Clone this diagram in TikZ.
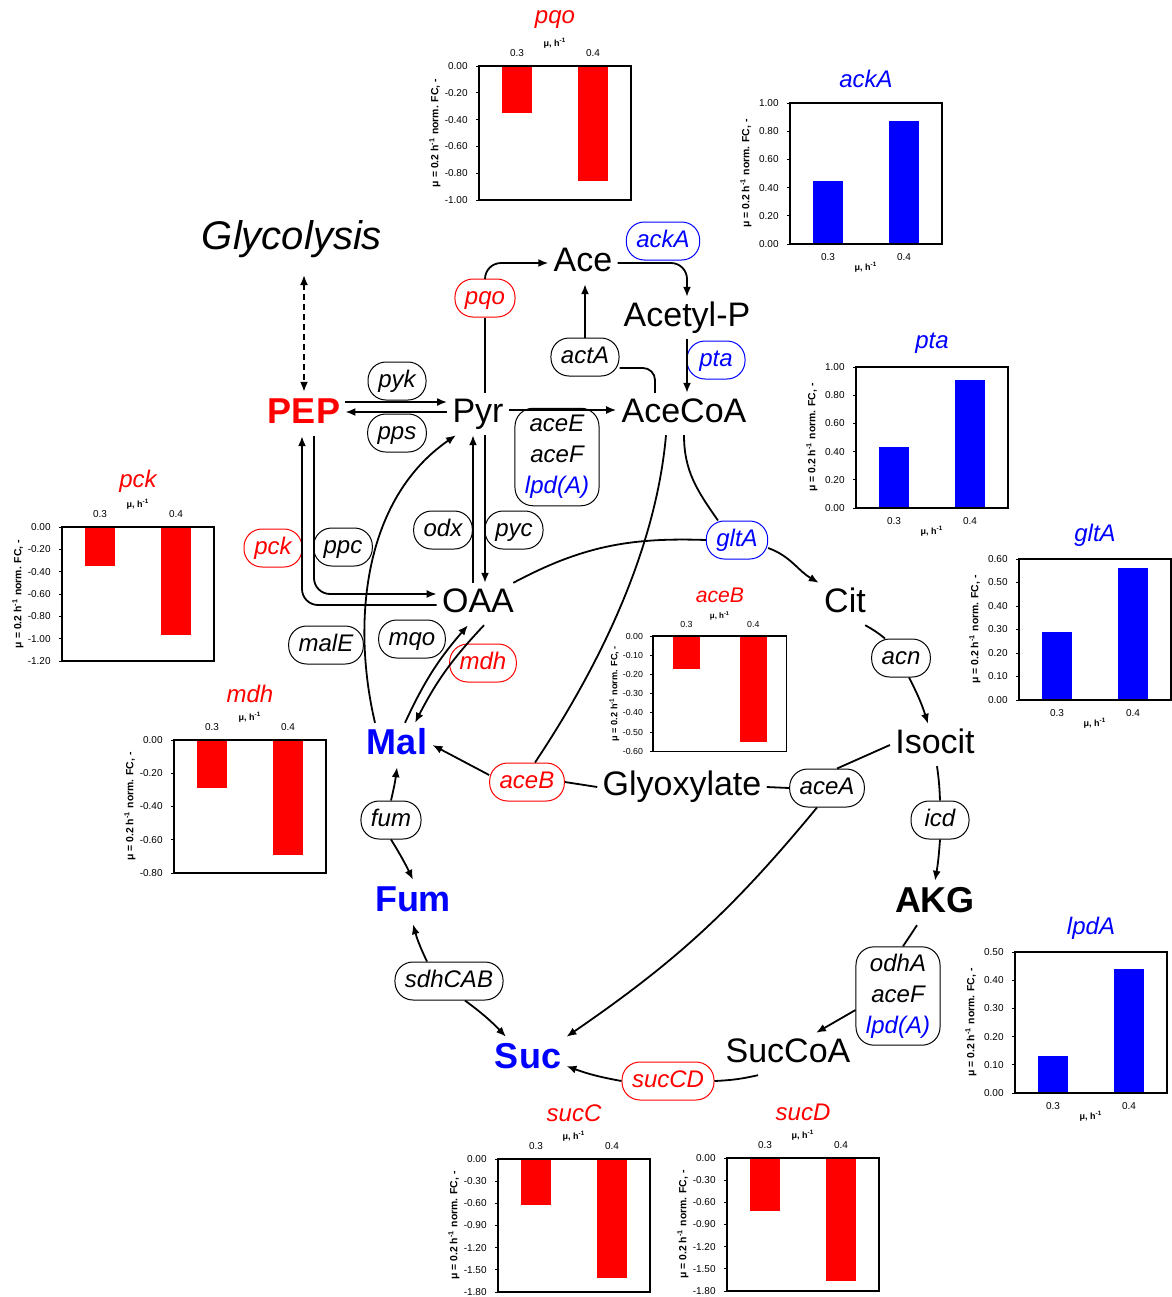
\documentclass[tikz,border=0pt]{standalone}
\usepackage{fontspec}
\setmainfont{Liberation Sans}
\usetikzlibrary{arrows.meta}
\definecolor{DownRed}{RGB}{255,0,0}
\definecolor{UpBlue}{RGB}{0,0,255}
\tikzset{met/.style={font=\fontsize{17}{17}\selectfont, inner sep=2.5pt,
  text height=12.2pt, text depth=3.6pt}}
\tikzset{metb/.style={met, font=\fontsize{18}{18}\selectfont\bfseries,
  text height=13pt, text depth=3.8pt}}
\tikzset{enzbase/.style={rectangle, rounded corners=9pt, draw, line width=0.5pt,
  inner xsep=5pt, font=\fontsize{12}{15.5}\selectfont\itshape}}
\tikzset{enz/.style={enzbase, minimum width=29pt, minimum height=19pt,
  text height=8.6pt, text depth=2.5pt}}
\tikzset{enzdn/.style={enz, draw=DownRed, text=DownRed}}
\tikzset{enzup/.style={enz, draw=UpBlue, text=UpBlue}}
\tikzset{enzgrp/.style={enzbase, align=center, inner ysep=3.5pt}}
\tikzset{fl/.style={-{Latex[length=5pt,width=4pt]}, line width=0.9pt}}
\tikzset{ln/.style={line width=0.9pt}}
\tikzset{ticklab/.style={anchor=east, inner sep=0pt, font=\fontsize{5}{5}\selectfont}}
\tikzset{catlab/.style={inner sep=0pt, font=\fontsize{5}{5}\selectfont}}
\tikzset{mulab/.style={inner sep=0pt, font=\fontsize{4.5}{4.5}\selectfont\bfseries}}
\tikzset{ylab/.style={inner sep=0pt, rotate=90, font=\fontsize{5.2}{5.2}\selectfont\bfseries}}
\newcommand{\fcchart}[8]{%
  \begin{scope}[#1]
    \pgfmathsetmacro{\zax}{#2*(1-(#8))/2}
    \foreach \tl [count=\tn] in {#3} {\xdef\nticks{\tn}}
    \foreach \tl [count=\tk from 0] in {#3} {
      \draw[line width=0.5pt] (-3,{\tk*#2/(\nticks-1)}) -- (0,{\tk*#2/(\nticks-1)});
      \node[ticklab] at (-11,{\tk*#2/(\nticks-1)}) {\tl};
    }
    \fill[#6] (23,\zax) rectangle (53,{\zax+(#8)*#4*#2});
    \fill[#6] (99,\zax) rectangle (129,{\zax+(#8)*#5*#2});
    \draw[line width=0.6pt] (0,0) rectangle (152,#2);
    \draw[line width=1.1pt] (0,#2) -- (0,0) (0,\zax) -- (152,\zax);
    \node[catlab] at (38,{\zax-(#8)*13}) {0.3};
    \node[catlab] at (114,{\zax-(#8)*13}) {0.4};
    \node[mulab] at (76,{\zax-(#8)*23}) {μ, h\textsuperscript{-1}};
    \node[font=\fontsize{12}{12}\selectfont\itshape, text=#6] at (76,{-35-11*(#8)}) {#7};
    \node[ylab] at (-44,{#2/2}) {μ = 0.2 h\textsuperscript{-1} norm. FC, -};
  \end{scope}}

\begin{document}
\begin{tikzpicture}[x=0.5pt, y=-0.5pt]
\path[use as bounding box, fill=white] (0,0) rectangle (1172,1297);

\fcchart{shift={(479,66)}}{134}{0.00,-0.20,-0.40,-0.60,-0.80,-1.00}{0.35}{0.86}{DownRed}{pqo}{1}
\fcchart{shift={(790,103)}}{141}{1.00,0.80,0.60,0.40,0.20,0.00}{0.45}{0.87}{UpBlue}{ackA}{-1}
\fcchart{shift={(856,367)}}{141}{1.00,0.80,0.60,0.40,0.20,0.00}{0.43}{0.91}{UpBlue}{pta}{-1}
\fcchart{shift={(1019,559)}}{141}{0.60,0.50,0.40,0.30,0.20,0.10,0.00}{0.29/0.6}{0.56/0.6}{UpBlue}{gltA}{-1}
\fcchart{shift={(62,527)}}{134}{0.00,-0.20,-0.40,-0.60,-0.80,-1.00,-1.20}{0.35/1.2}{0.97/1.2}{DownRed}{pck}{1}
\fcchart{shift={(174,740)}}{133}{0.00,-0.20,-0.40,-0.60,-0.80}{0.29/0.8}{0.69/0.8}{DownRed}{mdh}{1}
\fcchart{shift={(653,636)}, scale=0.88, transform shape}{131}{0.00,-0.10,-0.20,-0.30,-0.40,-0.50,-0.60}{0.17/0.6}{0.55/0.6}{DownRed}{aceB}{1}
\fcchart{shift={(1015,952)}}{141}{0.50,0.40,0.30,0.20,0.10,0.00}{0.13/0.5}{0.44/0.5}{UpBlue}{lpdA}{-1}
\fcchart{shift={(498,1159)}}{133}{0.00,-0.30,-0.60,-0.90,-1.20,-1.50,-1.80}{0.62/1.8}{1.61/1.8}{DownRed}{sucC}{1}
\fcchart{shift={(727,1158)}}{133}{0.00,-0.30,-0.60,-0.90,-1.20,-1.50,-1.80}{0.72/1.8}{1.66/1.8}{DownRed}{sucD}{1}

\node[inner sep=2.5pt, font=\fontsize{20}{20}\selectfont\itshape] (Glyc) at (292,239) {Glycolysis};
\node[metb, text=DownRed] (PEP) at (304,414) {PEP};
\node[met] (Pyr) at (478,414) {Pyr};
\node[met] (Ace) at (583,263) {Ace};
\node[met] (AcP) at (687,318) {Acetyl-P};
\node[met] (AcCoA) at (684,414) {AceCoA};
\node[met] (OAA) at (478,604) {OAA};
\node[met] (Cit) at (845,604) {Cit};
\node[met] (Icit) at (935,745) {Isocit};
\node[met] (Glx) at (682,787) {Glyoxylate};
\node[metb, text=UpBlue] (Mal) at (397,745) {Mal};
\node[metb, text=UpBlue] (Fum) at (413,902) {Fum};
\node[metb] (AKG) at (935,903) {AKG};
\node[metb, text=UpBlue] (Suc) at (528,1059) {Suc};
\node[met] (SucCoA) at (788,1054) {SucCoA};

\node[enzup] (ackA) at (663,241) {ackA};
\node[enzdn] (pqo) at (485,298) {pqo};
\node[enz] (actA) at (585,357) {actA};
\node[enzup] (pta) at (716,360) {pta};
\node[enz] (pyk) at (397,381) {pyk};
\node[enz] (pps) at (397,433) {pps};
\node[enzgrp] (pdh) at (557,457) {aceE\\aceF\\\textcolor{UpBlue}{lpd(A)}};
\node[enz] (odx) at (443,530) {odx};
\node[enz] (pyc) at (514,530) {pyc};
\node[enzdn] (pck) at (273,548) {pck};
\node[enz] (ppc) at (343,547) {ppc};
\node[enzup] (gltA) at (737,540) {gltA};
\node[enz] (malE) at (326,645) {malE};
\node[enz] (mqo) at (412,639) {mqo};
\node[enzdn] (mdh) at (483,663) {mdh};
\node[enz] (acn) at (901,658) {acn};
\node[enzdn] (aceB) at (527,782) {aceB};
\node[enz] (aceA) at (827,788) {aceA};
\node[enz] (fum) at (391,820) {fum};
\node[enz] (icd) at (940,820) {icd};
\node[enz] (sdh) at (449,981) {sdhCAB};
\node[enzgrp] (odh) at (898,996) {odhA\\aceF\\\textcolor{UpBlue}{lpd(A)}};
\node[enzdn] (sucCD) at (668,1081) {sucCD};

\draw[ln, dash pattern=on 3pt off 2pt, {Latex[length=5pt,width=4pt]}-{Latex[length=5pt,width=4pt]}]
  ([yshift=-6pt]Glyc.south -| PEP.north) -- (PEP.north);
\draw[fl] ([yshift=6pt]PEP.east) -- ([yshift=6pt]Pyr.west);
\draw[fl] ([yshift=1pt]Pyr.west) -- ([yshift=1pt]PEP.east);
\draw[fl] ([yshift=2pt]Pyr.east) -- ([yshift=2pt]AcCoA.west);
\draw[ln] ([xshift=3.5pt]Pyr.north) -- (pqo.south);
\draw[fl, rounded corners=8pt] (pqo.north) |- (Ace.west);
\draw[fl, rounded corners=8pt] (Ace.east) -| (AcP.north);
\draw[fl] (AcP.south) -- (AcP.south |- AcCoA.north);
\draw[ln, rounded corners=6pt] ([xshift=-14.5pt]AcCoA.north) |- ([yshift=-5.5pt]actA.east);
\draw[fl] (actA.north) -- (actA.north |- Ace.south);
\draw[fl] ([xshift=-2.5pt]OAA.north) -- ([xshift=-2.5pt]Pyr.south);
\draw[fl] ([xshift=3.5pt]Pyr.south) -- ([xshift=3.5pt]OAA.north);
\draw[fl, rounded corners=8pt] ([xshift=5pt]PEP.south) |- ([yshift=5pt]OAA.west);
\draw[fl, rounded corners=8pt] ([yshift=-0.5pt]OAA.west) -| ([xshift=-1pt]PEP.south);
\draw[fl] ([xshift=-11pt]Mal.north) .. controls (352,625) and (362,500) .. ([xshift=-11pt]Pyr.south);
\draw[fl] ([xshift=4pt]Mal.north) to[bend left=8] ([xshift=-5pt]OAA.south);
\draw[fl] ([xshift=3pt]OAA.south) to[bend right=8] ([xshift=9pt]Mal.north);
\draw[ln] ([xshift=-3pt]OAA.north east) to[out=28,in=178] (gltA.west);
\draw[fl] ([yshift=-4pt]gltA.east) to[out=-20,in=150] (Cit.north west);
\draw[ln] (AcCoA.south) to[out=-90,in=125] ([xshift=-9.5pt]gltA.north);
\draw[ln] ([xshift=-9pt]AcCoA.south) .. controls (655,560) and (590,680) .. ([xshift=4pt]aceB.north);
\draw[ln] ([xshift=-3pt]Cit.south east) to[bend left=5] ([xshift=-8pt]acn.north);
\draw[fl] ([xshift=4pt]acn.south) to[bend left=5] ([xshift=-3.5pt]Icit.north);
\draw[ln] ([xshift=1pt]Icit.south) to[bend left=3] (icd.north);
\draw[fl] (icd.south) to[bend left=3] (AKG.north);
\draw[ln] (Icit.west) -- ([xshift=5pt]aceA.north);
\draw[ln] (aceA.west) -- (Glx.east);
\draw[fl] ([xshift=-5pt]aceA.south) to[bend left=8] (Suc.north east);
\draw[ln] (Glx.west) -- (aceB.east);
\draw[fl] ([yshift=3.5pt]aceB.west) -- (Mal.east);
\draw[ln] ([xshift=-9pt]AKG.south) -- ([xshift=2.5pt]odh.north);
\draw[fl] ([yshift=-7pt]odh.west) -- ([xshift=14pt]SucCoA.north);
\draw[ln] ([xshift=-15pt]SucCoA.south) to[bend left=5] (sucCD.east);
\draw[fl] (sucCD.west) to[bend left=5] ([yshift=-3.5pt]Suc.east);
\draw[fl] ([xshift=8pt]sdh.south) to[bend left=5] ([xshift=-11pt]Suc.north);
\draw[fl] ([xshift=-11pt]sdh.north) to[bend left=5] (Fum.south);
\draw[fl] (fum.north) to[bend right=3] (Mal.south);
\draw[fl] (fum.south) to[bend left=3] (Fum.north);
\end{tikzpicture}
\end{document}
